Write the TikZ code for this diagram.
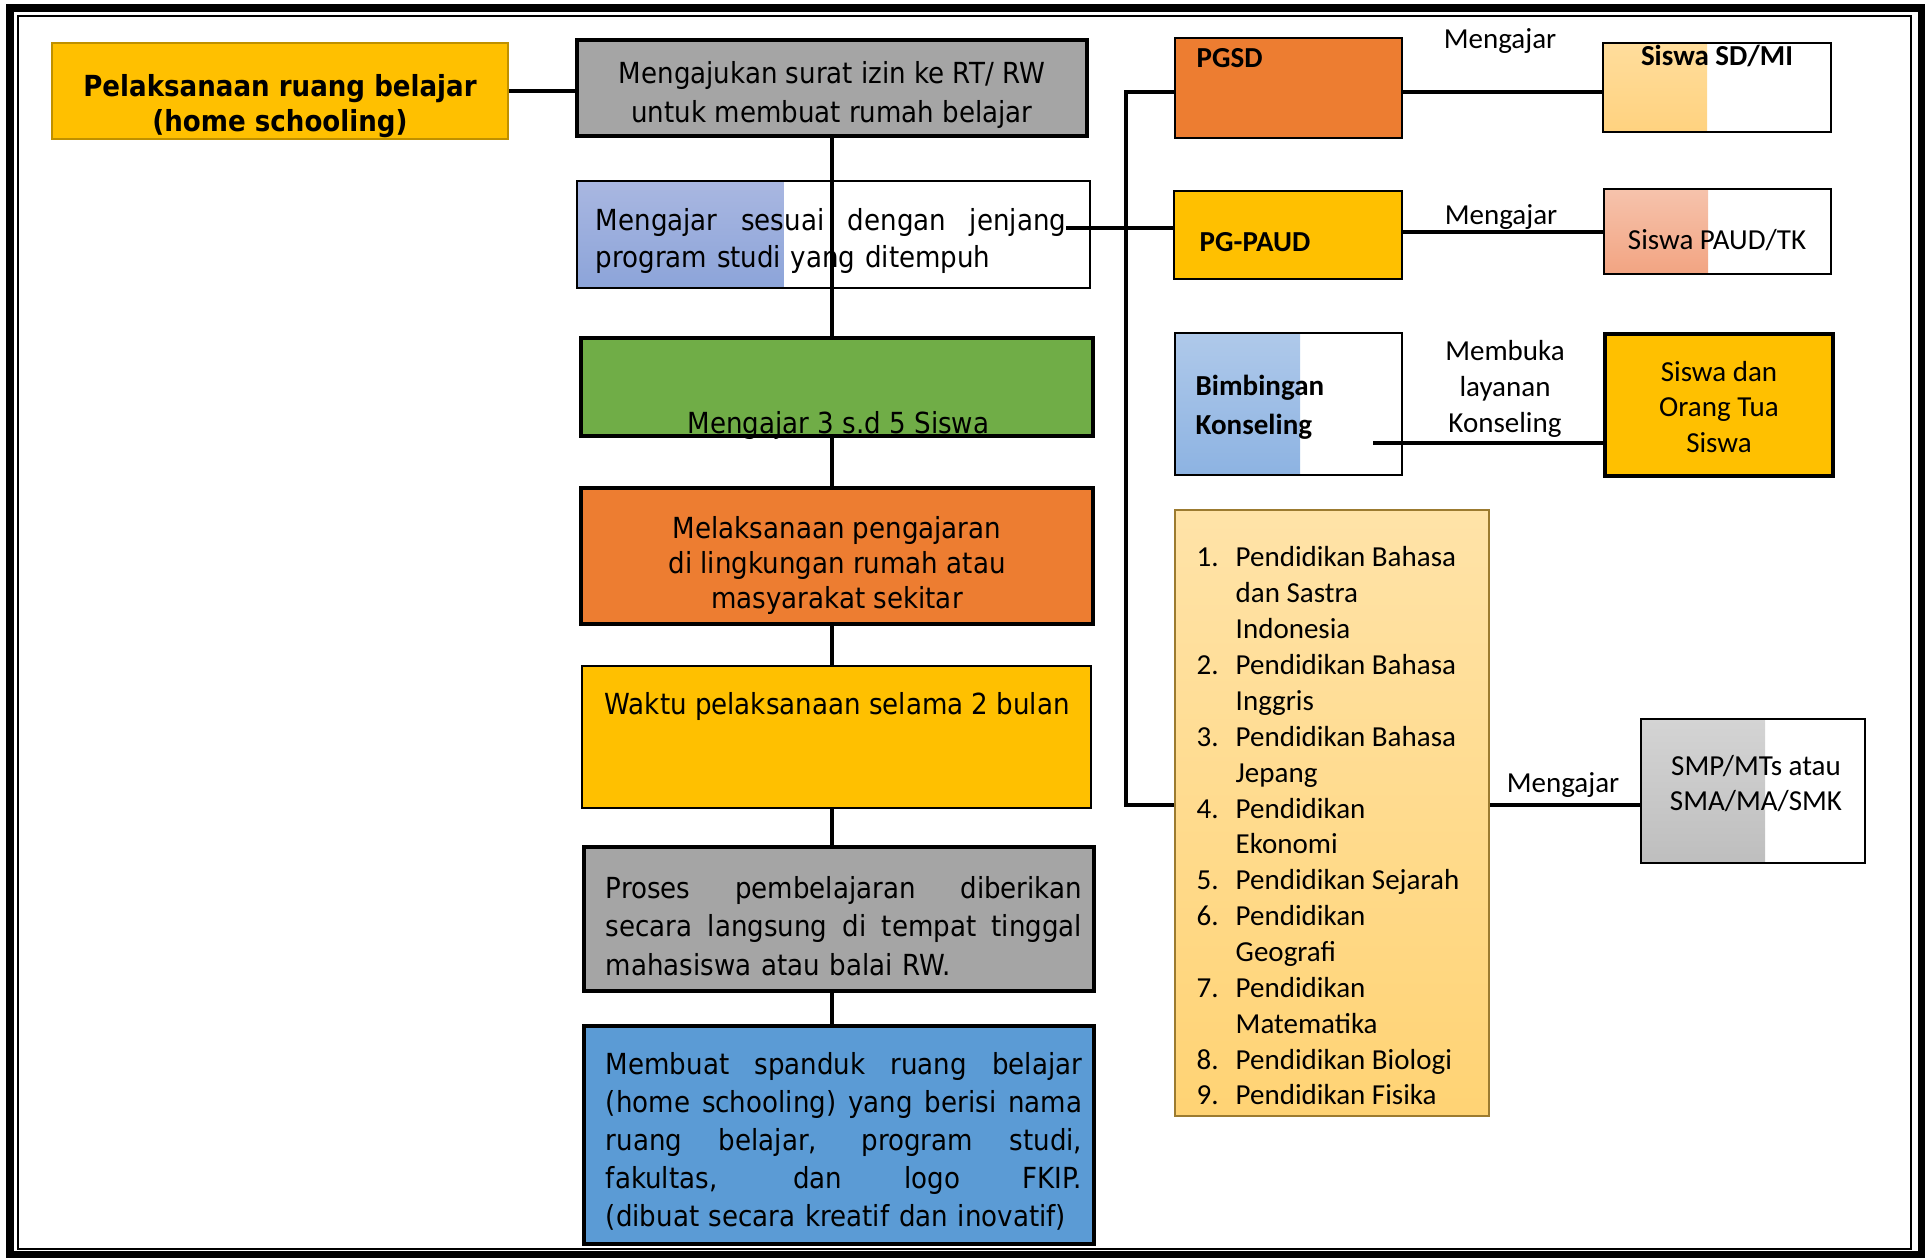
\documentclass[tikz,border=0pt]{standalone}
\usepackage{fontspec}
\setmainfont{Carlito}
\newfontfamily\tahoma{DejaVu Sans}[FakeStretch=0.9]

\definecolor{gold}{HTML}{FFC000}
\definecolor{golddark}{HTML}{BF9000}
\definecolor{orangebox}{HTML}{ED7D31}
\definecolor{graybox}{HTML}{A5A5A5}
\definecolor{greenbox}{HTML}{70AD47}
\definecolor{bluebox}{HTML}{5B9BD5}
\definecolor{sesuaiA}{HTML}{A9B7E1}
\definecolor{sesuaiB}{HTML}{8CA4D9}
\definecolor{sdmiA}{HTML}{FFDD9C}
\definecolor{sdmiB}{HTML}{FFD27F}
\definecolor{sdpaudA}{HTML}{F6C3AC}
\definecolor{sdpaudB}{HTML}{F2A482}
\definecolor{bkA}{HTML}{AFC9EA}
\definecolor{bkB}{HTML}{8DB3E2}
\definecolor{smpA}{HTML}{D4D4D4}
\definecolor{smpB}{HTML}{BEBEBE}
\definecolor{prodiA}{HTML}{FFE3A8}
\definecolor{prodiB}{HTML}{FFD374}
\definecolor{prodiLine}{HTML}{9C7B30}

\newcommand{\jus}[2]{\leavevmode\hbox to #1{\spaceskip=0.2em plus 1fil\relax #2}}
\newcommand{\nomor}[1]{\makebox[0.39cm][l]{#1}}

\begin{document}
\begin{tikzpicture}[x=0.01cm, y=-0.01cm,
    box/.style={rectangle, draw, inner sep=0pt},
    tebal/.style={line width=1pt},
    tipis/.style={line width=0.4pt},
    conn/.style={line width=1pt},
    tah/.style={inner sep=0pt, font=\tahoma\fontsize{8.25}{10.8}\selectfont},
    cal/.style={inner sep=0pt, font=\fontsize{8.25}{10.2}\selectfont},
    half/.style n args={3}{path picture={\shade[top color=#1, bottom color=#2]
        (path picture bounding box.south west) rectangle
        ([xshift=#3]path picture bounding box.north west);}}]

    \useasboundingbox (0,0) rectangle (1930,1257);
    \draw[line width=2pt] (10,8) rectangle (1921,1254);
    \draw[line width=0.6pt] (18,16) rectangle (1911,1249);

        \node[box, draw=golddark, line width=0.6pt, fill=gold, minimum width=4.56cm, minimum height=0.96cm] (home) at (280,91) {};
        \node[box, tebal, fill=graybox, minimum width=5.10cm, minimum height=0.96cm] (izin) at (832,88) {};
        \node[box, tipis, half={sesuaiA}{sesuaiB}{2.07cm}, minimum width=5.13cm, minimum height=1.07cm] (sesuai) at (833.5,234.5) {};
        \node[box, tebal, fill=greenbox, minimum width=5.12cm, minimum height=0.98cm] (lima) at (837,387) {};
        \node[box, tebal, fill=orangebox, minimum width=5.12cm, minimum height=1.36cm] (lingkungan) at (837,556) {};
        \node[box, line width=0.5pt, fill=gold, minimum width=5.09cm, minimum height=1.42cm] (waktu) at (836.5,737) {};
        \node[box, tebal, fill=graybox, minimum width=5.10cm, minimum height=1.44cm] (proses) at (839,919) {};
        \node[box, tebal, fill=bluebox, minimum width=5.10cm, minimum height=2.18cm] (spanduk) at (839,1135) {};

        \node[box, line width=0.8pt, fill=orangebox, minimum width=2.27cm, minimum height=1.00cm] (pgsd) at (1288.5,88) {};
        \node[box, line width=0.8pt, fill=gold, minimum width=2.28cm, minimum height=0.88cm] (paud) at (1288,235) {};
        \node[box, line width=0.5pt, half={bkA}{bkB}{1.25cm}, minimum width=2.27cm, minimum height=1.42cm] (bk) at (1288.5,404) {};
        \node[box, draw=prodiLine, line width=0.5pt, top color=prodiA, bottom color=prodiB, minimum width=3.14cm, minimum height=6.06cm] (prodi) at (1332,813) {};

        \node[box, tipis, half={sdmiA}{sdmiB}{1.04cm}, minimum width=2.28cm, minimum height=0.89cm] (sdmi) at (1717,87.5) {};
        \node[box, tipis, half={sdpaudA}{sdpaudB}{1.04cm}, minimum width=2.27cm, minimum height=0.85cm] (sdpaud) at (1717.5,231.5) {};
        \node[box, line width=1.3pt, fill=gold, minimum width=2.28cm, minimum height=1.42cm] (ortu) at (1719,405) {};
        \node[box, tipis, half={smpA}{smpB}{1.24cm}, minimum width=2.24cm, minimum height=1.44cm] (smp) at (1753,791) {};

        \node[tah, font=\tahoma\bfseries\fontsize{8.25}{10}\selectfont, align=center] (homeT) at (280,106) {Pelaksanaan ruang belajar\\(home schooling)};
        \node[tah, font=\tahoma\fontsize{8.25}{11.1}\selectfont, align=center] (izinT) at (832,95) {Mengajukan surat izin ke RT/ RW\\untuk membuat rumah belajar};
        \node[tah, font=\tahoma\fontsize{8.25}{10.5}\selectfont, text width=4.70cm, align=left] (sesuaiT) at (831,241) {\jus{4.70cm}{Mengajar sesuai dengan jenjang}\\program studi yang ditempuh};
        \node[tah, anchor=base] (limaT) at (838.5,433) {Mengajar 3 s.d 5 Siswa};
        \node[tah, font=\tahoma\fontsize{8.25}{10}\selectfont, align=center] (lingkunganT) at (837,565.5) {Melaksanaan pengajaran\\di lingkungan rumah atau\\masyarakat sekitar};
        \node[tah, anchor=base west] (waktuT) at (604,714) {Waktu pelaksanaan selama 2 bulan};
        \node[tah, font=\tahoma\fontsize{8.25}{10.9}\selectfont, text width=4.76cm, align=left] (prosesT) at (844,926) {\jus{4.76cm}{Proses pembelajaran diberikan}\\\jus{4.76cm}{secara langsung di tempat tinggal}\\mahasiswa atau balai RW.};
        \node[tah, text width=4.76cm, align=left] (spandukT) at (844,1141.5) {\jus{4.76cm}{Membuat spanduk ruang belajar}\\\jus{4.76cm}{(home schooling) yang berisi nama}\\\jus{4.76cm}{ruang belajar, program studi,}\\\jus{4.76cm}{fakultas, dan logo FKIP.}\\(dibuat secara kreatif dan inovatif)};

        \node[cal, font=\bfseries\fontsize{8.25}{10.2}\selectfont, anchor=base west] (pgsdT) at (1196,67) {PGSD};
        \node[cal, font=\bfseries\fontsize{8.25}{10.2}\selectfont, anchor=base] (sdmiT) at (1717,65) {Siswa SD/MI};
        \node[cal, font=\bfseries\fontsize{8.25}{10.2}\selectfont, anchor=base west] (paudT) at (1199,251) {PG-PAUD};
        \node[cal, anchor=base] (sdpaudT) at (1717,249) {Siswa PAUD/TK};
        \node[cal, font=\bfseries\fontsize{8.25}{11.1}\selectfont, anchor=west, align=left] (bkT) at (1195,407.5) {Bimbingan\\Konseling};
        \node[cal, align=center] (ortuT) at (1719,407) {Siswa dan\\Orang Tua\\Siswa};
        \node[cal, anchor=west, align=left] (prodiT) at (1196,826) {\nomor{1.}Pendidikan Bahasa\\
            \nomor{}dan Sastra\\
            \nomor{}Indonesia\\
            \nomor{2.}Pendidikan Bahasa\\
            \nomor{}Inggris\\
            \nomor{3.}Pendidikan Bahasa\\
            \nomor{}Jepang\\
            \nomor{4.}Pendidikan\\
            \nomor{}Ekonomi\\
            \nomor{5.}Pendidikan Sejarah\\
            \nomor{6.}Pendidikan\\
            \nomor{}Geografi\\
            \nomor{7.}Pendidikan\\
            \nomor{}Matematika\\
            \nomor{8.}Pendidikan Biologi\\
            \nomor{9.}Pendidikan Fisika};
        \node[cal, font=\fontsize{8.25}{9.7}\selectfont, align=center] (smpT) at (1756,783.5) {SMP/MTs atau\\SMA/MA/SMK};

        \node[cal, anchor=base] (ajar1) at (1500,48) {Mengajar};
        \node[cal, anchor=base] (ajar2) at (1501,224) {Mengajar};
        \node[cal, align=center] (layanan) at (1505,389) {Membuka\\layanan\\Konseling};
        \node[cal, anchor=base] (ajar3) at (1563,792) {Mengajar};

        \coordinate (busT) at (1126,92);
        \coordinate (busB) at (1126,805);
        \coordinate (sj) at (1066,228);
        \coordinate (bkin) at (1373,443);

        \draw[conn] (home.east) -- (home.east -| izin.west);
        \draw[conn] (izin.south) -- (izin.south |- lima.north);
        \draw[conn] (lima.south -| izin.south) -- (lingkungan.north -| izin.south);
        \draw[conn] (lingkungan.south -| izin.south) -- (waktu.north -| izin.south);
        \draw[conn] (waktu.south -| izin.south) -- (proses.north -| izin.south);
        \draw[conn] (proses.south -| izin.south) -- (spanduk.north -| izin.south);
        \draw[conn] (sj) -- (sj -| paud.west);
        \draw[conn] (busT -| pgsd.west) -- (busT) -- (busB) -- (busB -| prodi.west);
        \draw[conn] (busT -| pgsd.east) -- (busT -| sdmi.west);
        \draw[conn] ([yshift=0.03cm]paud.east) -- ([yshift=0.03cm]paud.east -| sdpaud.west);
        \draw[conn] (bkin) -- (bkin -| ortu.west);
        \draw[conn] (busB -| prodi.east) -- (busB -| smp.west);

\end{tikzpicture}
\end{document}
